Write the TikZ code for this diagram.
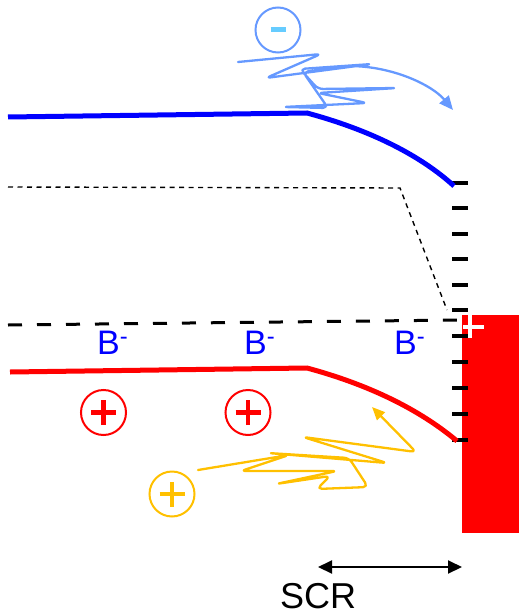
\documentclass[tikz,border=0pt]{standalone}
\usepackage{fontspec}
\setmainfont{Liberation Sans}
\usetikzlibrary{arrows.meta}
\definecolor{bandblue}{HTML}{0000FF}
\definecolor{bandred}{HTML}{FF0000}
\definecolor{lightblue}{HTML}{6699FF}
\definecolor{minuscyan}{HTML}{66CCFF}
\definecolor{amber}{HTML}{FFC000}
\begin{document}
\begin{tikzpicture}[x=1pt,y=-1pt,
  bandline/.style={line width=5pt},
  tickmark/.style={line width=3.5pt,black},
  thickdash/.style={line width=3pt,dash pattern=on 14pt off 15pt},
  thindash/.style={line width=1.4pt,dash pattern=on 5pt off 4.5pt},
  chargeplus/.style={circle,draw=#1,line width=2pt,minimum size=45pt,inner sep=0pt,
    path picture={\draw[#1,line width=4.5pt]
      ([xshift=-12.5pt]path picture bounding box.center) -- ([xshift=12.5pt]path picture bounding box.center)
      ([yshift=-12.5pt]path picture bounding box.center) -- ([yshift=12.5pt]path picture bounding box.center);}},
  chargeminus/.style={circle,draw=lightblue,line width=2pt,minimum size=45pt,inner sep=0pt,
    path picture={\draw[minuscyan,line width=5pt]
      ([xshift=-7.5pt]path picture bounding box.center) -- ([xshift=7.5pt]path picture bounding box.center);}},
  ionlabel/.style={text=bandblue,font=\fontsize{34}{40}\selectfont,inner sep=0pt,anchor=base west},
  scribble/.style={line width=2.3pt,rounded corners=5pt,line cap=round,line join=round}
]
\useasboundingbox (0,0) rectangle (519,615);

% red contact
\fill[bandred] (462,315) rectangle (519,533);
\draw[white,line width=4pt] (470,315) -- (470,338) (463,327) -- (484,327);

% ticks
\foreach \yy in {183,208,234,259,285,310,336,362,388,414,440}
  \draw[tickmark] (452,\yy) -- (468,\yy);

% dashed lines
\draw[thindash] (8,187) -- (400,188) -- (447,310);
\draw[thickdash] (8,325) -- (462,320);

% bands
\draw[bandline,bandblue] (8,117) -- (307,113) .. controls (370,130) and (420,155) .. (454,186);
\draw[bandline,bandred] (10,372) -- (307,368) .. controls (370,385) and (420,410) .. (457,441);

% labels
\node[ionlabel] (b1) at (97,354) {B\textsuperscript{-}};
\node[ionlabel] (b2) at (244,354) {B\textsuperscript{-}};
\node[ionlabel] (b3) at (394,354) {B\textsuperscript{-}};

% charges
\node[chargeplus=bandred] (h1) at (103.5,412.5) {};
\node[chargeplus=bandred] (h2) at (248,412.5) {};
\node[chargeplus=amber] (h3) at (172,494) {};
\node[chargeminus] (e1) at (278,30) {};

% scribbles
\draw[scribble,lightblue,-{Triangle[length=14pt,width=12pt]}]
  (238,62) -- (321,54) -- (266,78) -- (372,64) -- (300,69) -- (318,89) -- (397,88)
  -- (318,93) -- (367,103) -- (283,107) -- (328,108) -- (303,72) -- (352,66)
  [rounded corners=0pt] .. controls (395,68) and (432,85) .. (453,110);
\draw[scribble,amber,-{Triangle[length=13pt,width=11pt]}]
  (198,470) -- (289,455) -- (241,471) -- (337,471) -- (276,484) -- (330,476)
  -- (317,489) -- (368,487) -- (349,458) -- (268,453) -- (387,463) -- (303,437)
  -- (416,452) -- (372,407);

% SCR
\coordinate (s1) at (318,567);
\coordinate (s2) at (462,567);
\draw[line width=2pt,{Triangle[length=14pt,width=13pt]}-{Triangle[length=14pt,width=13pt]}] (s1) -- (s2);
\node[font=\fontsize{36}{40}\selectfont,inner sep=0pt,text depth=0pt,anchor=base west] (scr) at (280,608) {SCR};
\end{tikzpicture}
\end{document}
